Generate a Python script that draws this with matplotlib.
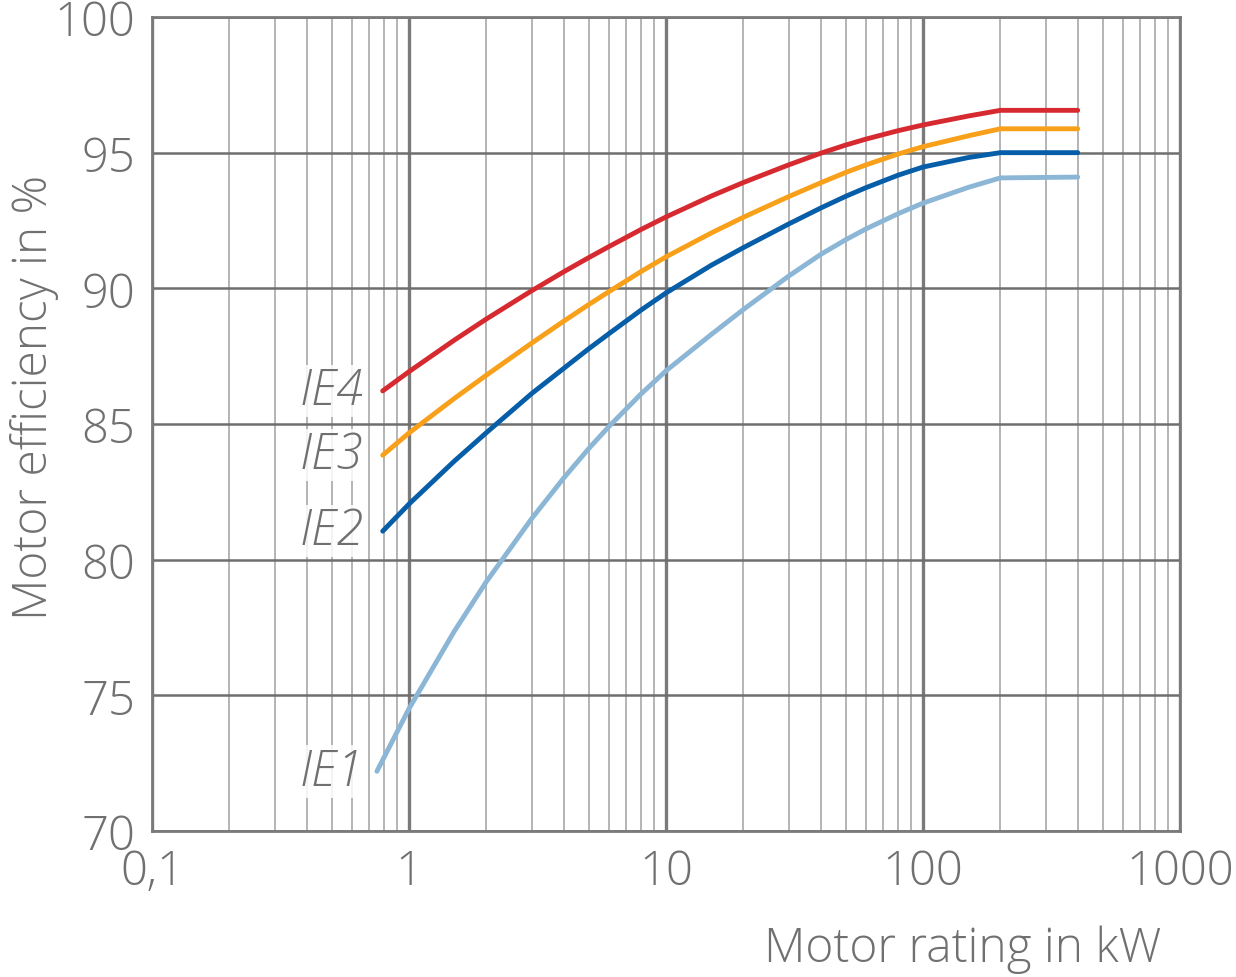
import numpy as np
import matplotlib
matplotlib.use('Agg')
import matplotlib.pyplot as plt

# motor rating in kW
kw = [1, 1.5, 2, 3, 4, 5, 6, 8, 10, 15, 20, 30, 40, 50, 60, 80, 100, 150, 200, 400]
# first point of each curve (IE1 starts a little further left)
start_kw = [0.75, 0.79, 0.79, 0.79]

# efficiency in % for each class, first value belongs to start_kw
ie1 = [72.2, 74.51, 77.36, 79.19, 81.51, 83.01, 84.09, 84.91, 86.11, 86.96, 88.3, 89.22,
       90.45, 91.25, 91.79, 92.19, 92.75, 93.14, 93.72, 94.07, 94.1]
ie2 = [81.05, 82.05, 83.63, 84.68, 86.12, 87.05, 87.77, 88.33, 89.2, 89.83, 90.85, 91.5,
       92.37, 92.96, 93.39, 93.71, 94.17, 94.47, 94.82, 95.0, 95.0]
ie3 = [83.85, 84.67, 85.94, 86.8, 87.98, 88.79, 89.4, 89.88, 90.62, 91.16, 92.04, 92.62,
       93.38, 93.89, 94.27, 94.55, 94.95, 95.22, 95.62, 95.88, 95.88]
ie4 = [86.22, 86.93, 88.09, 88.87, 89.91, 90.61, 91.13, 91.54, 92.17, 92.63, 93.4, 93.9,
       94.55, 94.98, 95.28, 95.5, 95.81, 96.02, 96.35, 96.56, 96.56]

names = ['IE1', 'IE2', 'IE3', 'IE4']
colors = ['#8cb6d6', '#065da8', '#f8a01a', '#d72a30']

x_ticks = [0.1, 1, 10, 100, 1000]
x_ticklabels = ['0,1', '1', '10', '100', '1000']
y_ticks = [70, 75, 80, 85, 90, 95, 100]

plt.rcParams['font.family'] = ['Open Sans', 'DejaVu Sans']
plt.rcParams['font.weight'] = 'light'
text_color = '#707070'

fig = plt.figure(figsize=(12.36, 9.78), dpi=100)
ax = fig.add_axes([0.123, 0.1493, 0.8317, 0.8323])

# curves with their class labels
for name, x0, vals, c in zip(names, start_kw, [ie1, ie2, ie3, ie4], colors):
    ax.plot([x0] + kw, vals, color=c, linewidth=3.5, solid_capstyle='round',
            solid_joinstyle='round', zorder=3)
    ax.text(0.665, vals[0], name, ha='right', va='center', fontsize=35,
            style='italic', color=text_color, zorder=4,
            bbox=dict(facecolor='white', edgecolor='none', alpha=0.85, pad=1))

ax.set_xscale('log')
ax.set_xlim(0.1, 1000)
ax.set_ylim(70, 100)

# ticks and labels
ax.set_xticks(x_ticks)
ax.set_xticklabels(x_ticklabels)
ax.set_yticks(y_ticks)
ax.xaxis.set_minor_locator(matplotlib.ticker.LogLocator(base=10, subs=np.arange(2, 10)))
ax.xaxis.set_minor_formatter(matplotlib.ticker.NullFormatter())
ax.tick_params(which='both', length=0, labelsize=34, colors=text_color)
ax.tick_params(axis='x', pad=12)
ax.tick_params(axis='y', pad=12)

# grid lines
ax.grid(which='minor', axis='x', color='#b4b4b4', linewidth=1.4)
ax.grid(which='major', axis='x', color='#7a7a7a', linewidth=2.4)
ax.grid(which='major', axis='y', color='#6e6e6e', linewidth=1.8)
ax.set_axisbelow(True)
for s in ax.spines.values():
    s.set_color('#7a7a7a')
    s.set_linewidth(2)

# axis titles
fig.text(0.028, 1 - 397 / 978, 'Motor efficiency in %', rotation=90,
         ha='center', va='center', fontsize=34.5, color=text_color)
fig.text(0.940, 0.0286, 'Motor rating in kW', ha='right', va='center',
         fontsize=34.5, color=text_color)

fig.savefig('out.png', dpi=100)
